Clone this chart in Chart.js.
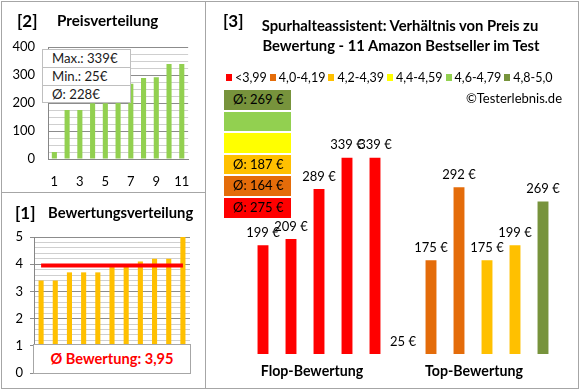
<!DOCTYPE html>
<html>
<head>
<meta charset="utf-8">
<script src="https://cdn.jsdelivr.net/npm/chart.js@4.4.1/dist/chart.umd.min.js"></script>
<style>
body { margin: 0; background: #fff; font-family: Lato, sans-serif; }
#wrap { position: relative; width: 580px; height: 390px; overflow: hidden; background: #fff; }
.frame { position: absolute; border: 1px solid #a6a6a6; box-sizing: border-box; pointer-events: none; }
.txt { position: absolute; white-space: nowrap; color: #000; }
canvas { position: absolute; }
.box { position: absolute; box-sizing: border-box; }
#legende { position: absolute; left: 226px; top: 69px; height: 16px; display: flex; align-items: center; font-size: 12.5px; }
#legende span.item { display: flex; align-items: center; margin-right: 3px; }
#legende span.sq { display: inline-block; width: 6px; height: 7px; margin-right: 3px; }
</style>
</head>
<body>
<div id="wrap">
  <canvas id="chartPreis" width="205" height="192" style="left:0;top:0"></canvas>
  <canvas id="chartBewertung" width="205" height="195" style="left:0;top:193px"></canvas>
  <canvas id="chartVerhaeltnis" width="371" height="385" style="left:206px;top:2px"></canvas>

  <div class="frame" style="left:1px;top:1px;width:578px;height:388px"></div>
  <div class="frame" style="left:205px;top:1px;width:1px;height:388px;border-width:0 0 0 1px"></div>
  <div class="frame" style="left:1px;top:192px;width:205px;height:1px;border-width:1px 0 0 0"></div>

  <div class="txt" style="left:17px;top:20px;transform:translateY(-50%);font-weight:bold;font-size:17px">[2]</div>
  <div class="txt" style="left:57px;top:20px;transform:translateY(-50%);font-weight:bold;font-size:15.2px">Preisverteilung</div>
  <div id="infoBox"></div>

  <div class="txt" style="left:15px;top:212px;transform:translateY(-50%);font-weight:bold;font-size:17px">[1]</div>
  <div class="txt" style="left:48px;top:212px;transform:translateY(-50%);font-weight:bold;font-size:14.8px">Bewertungsverteilung</div>
  <div id="schnittBox" class="box" style="left:33px;top:344px;width:158px;height:30px;background:#fff;border:1px solid #a6a6a6;color:#ff0000;font-weight:bold;font-size:14.6px;line-height:28px;text-align:center"></div>

  <div class="txt" style="left:223px;top:20px;transform:translateY(-50%);font-weight:bold;font-size:17px">[3]</div>
  <div class="txt" style="left:400px;top:25px;transform:translate(-50%,-50%);font-weight:bold;font-size:14.8px">Spurhalteassistent: Verhältnis von Preis zu</div>
  <div class="txt" style="left:401px;top:45px;transform:translate(-50%,-50%);font-weight:bold;font-size:14.8px">Bewertung - 11 Amazon Bestseller im Test</div>
  <div id="legende"></div>
  <div class="txt" style="left:562px;top:98px;transform:translate(-100%,-50%);font-size:13px">©Testerlebnis.de</div>
  <div id="farbBoxen"></div>
  <div id="gruppen"></div>
</div>

<script>
// Preisverteilung (sortiert)
var preisLabels = ["1", "2", "3", "4", "5", "6", "7", "8", "9", "10", "11"];
var preiseSortiert = [25, 175, 175, 199, 199, 209, 269, 289, 292, 339, 339];

// Bewertungsverteilung
var bewertungen = [3.4, 3.4, 3.7, 3.7, 3.7, 3.9, 3.9, 4.1, 4.2, 4.2, 5.0];
var bewertungSchnitt = 3.95;

// Verhaeltnis Preis zu Bewertung
var produktPreise = [199, 209, 289, 339, 339, 25, 175, 292, 175, 199, 269];
var produktKlasse = [0, 0, 0, 0, 0, 1, 1, 1, 2, 2, 5];
var klassenLabels = ["<3,99", "4,0-4,19", "4,2-4,39", "4,4-4,59", "4,6-4,79", "4,8-5,0"];
var klassenFarben = ["#FF0000", "#E46C0A", "#FFC000", "#FFFF00", "#92D050", "#77933C"];
var gruppenLabels = ["Flop-Bewertung", "Top-Bewertung"];
var preisAchse = [25, 345];

var schrift = "Lato, sans-serif";

function makeText(parent, txt, css) {
  var d = document.createElement("div");
  d.textContent = txt;
  d.style.cssText = css;
  parent.appendChild(d);
  return d;
}

// ---- [2] Preisverteilung ----
var maxPreis = Math.max.apply(null, preiseSortiert);
var minPreis = Math.min.apply(null, preiseSortiert);
var schnittPreis = preiseSortiert.reduce(function(a, b) { return a + b; }, 0) / preiseSortiert.length;

var info = document.getElementById("infoBox");
["Max.: " + maxPreis + "€", "Min.: " + minPreis + "€", "Ø: " + Math.round(schnittPreis) + "€"].forEach(function(t, i) {
  makeText(info, t, "position:absolute;box-sizing:border-box;left:42px;top:" + (49 + i * 18) + "px;width:89px;height:" + (i == 2 ? 18 : 19) +
    "px;background:#fff;border:1px solid #bfbfbf;padding-left:9px;line-height:17px;font-size:13.2px;color:#1a1a1a");
});

new Chart(document.getElementById("chartPreis").getContext("2d"), {
  type: "bar",
  data: {
    labels: preisLabels,
    datasets: [{
      data: preiseSortiert,
      backgroundColor: "#92D050",
      barPercentage: 0.4,
      categoryPercentage: 1
    }]
  },
  options: {
    responsive: false,
    animation: false,
    layout: { padding: { left: 0, top: 47, right: 15, bottom: 0 } },
    plugins: { legend: { display: false }, tooltip: { enabled: false } },
    scales: {
      x: {
        afterFit: function(s) { s.height = 33; },
        grid: { display: false, drawTicks: false },
        border: { color: "#868686" },
        ticks: {
          padding: 15, color: "#000", font: { family: schrift, size: 13 }, autoSkip: false, maxRotation: 0,
          callback: function(v, i) { return i % 2 == 0 ? preisLabels[i] : ""; }
        }
      },
      y: {
        min: 0, max: 400,
        afterFit: function(s) { s.width = 48; },
        grid: {
          drawTicks: false,
          color: function(c) { return c.tick.value % 100 == 0 ? "#8c8c8c" : "#cfcfcf"; }
        },
        border: { color: "#868686" },
        ticks: {
          stepSize: 25, padding: 13, autoSkip: false, color: "#000", font: { family: schrift, size: 13 },
          callback: function(v) { return v % 100 == 0 ? v : ""; }
        }
      }
    }
  }
});

// ---- [1] Bewertungsverteilung ----
document.getElementById("schnittBox").textContent = "Ø Bewertung: " + bewertungSchnitt.toFixed(2).replace(".", ",");

new Chart(document.getElementById("chartBewertung").getContext("2d"), {
  type: "bar",
  data: {
    labels: preisLabels,
    datasets: [{
      type: "line",
      data: bewertungen.map(function() { return bewertungSchnitt; }),
      borderColor: "#FF0000",
      borderWidth: 4,
      pointRadius: 0,
      order: 0
    }, {
      data: bewertungen,
      backgroundColor: "#FFC000",
      barPercentage: 0.36,
      categoryPercentage: 1,
      order: 1
    }]
  },
  options: {
    responsive: false,
    animation: false,
    layout: { padding: { left: 0, top: 44, right: 15, bottom: 15 } },
    plugins: { legend: { display: false }, tooltip: { enabled: false } },
    scales: {
      x: { display: false },
      y: {
        min: 0, max: 5,
        afterFit: function(s) { s.width = 34; },
        grid: {
          tickLength: 4,
          color: function(c) { return Math.abs(c.tick.value - Math.round(c.tick.value)) < 0.01 ? "#8c8c8c" : "#cfcfcf"; },
          tickColor: function(c) { return Math.abs(c.tick.value - Math.round(c.tick.value)) < 0.01 ? "#8c8c8c" : "rgba(0,0,0,0)"; }
        },
        border: { color: "#868686" },
        ticks: {
          stepSize: 0.2, padding: 7, autoSkip: false, color: "#000", font: { family: schrift, size: 13 },
          callback: function(v) { return Math.abs(v - Math.round(v)) < 0.01 ? Math.round(v) : ""; }
        }
      }
    }
  }
});

// ---- [3] Verhaeltnis von Preis zu Bewertung ----
var leg = document.getElementById("legende");
klassenLabels.forEach(function(l, i) {
  var item = document.createElement("span");
  item.className = "item";
  var sq = document.createElement("span");
  sq.className = "sq";
  sq.style.background = klassenFarben[i];
  item.appendChild(sq);
  item.appendChild(document.createTextNode(l));
  leg.appendChild(item);
});

var boxen = document.getElementById("farbBoxen");
for (var k = klassenLabels.length - 1, row = 0; k >= 0; k--, row++) {
  var summe = 0, anzahl = 0;
  produktKlasse.forEach(function(kl, i) { if (kl == k) { summe += produktPreise[i]; anzahl++; } });
  var t = anzahl ? "Ø: " + Math.round(summe / anzahl) + " €" : "";
  makeText(boxen, t, "position:absolute;left:224px;top:" + (90 + row * 21.6) + "px;width:67px;height:19.5px;background:" + klassenFarben[k] +
    ";padding-left:9px;box-sizing:border-box;line-height:19.5px;font-size:13px;color:#000");
}

var gr = document.getElementById("gruppen");
makeText(gr, gruppenLabels[0], "position:absolute;left:312px;top:370px;transform:translate(-50%,-50%);white-space:nowrap;font-weight:bold;font-size:14.2px");
makeText(gr, gruppenLabels[1], "position:absolute;left:474px;top:370px;transform:translate(-50%,-50%);white-space:nowrap;font-weight:bold;font-size:14.2px");

var preisLabelPlugin = {
  id: "preisLabels",
  afterDatasetsDraw: function(chart) {
    var ctx = chart.ctx;
    var meta = chart.getDatasetMeta(0);
    ctx.save();
    ctx.font = "13px " + schrift;
    ctx.fillStyle = "#000";
    ctx.textAlign = "center";
    ctx.textBaseline = "middle";
    meta.data.forEach(function(bar, i) {
      ctx.fillText(produktPreise[i] + " €", bar.x, bar.y - 12.5);
    });
    ctx.restore();
  }
};

new Chart(document.getElementById("chartVerhaeltnis").getContext("2d"), {
  type: "bar",
  data: {
    labels: produktPreise.map(function(p, i) { return String(i + 1); }),
    datasets: [{
      data: produktPreise,
      backgroundColor: produktKlasse.map(function(k) { return klassenFarben[k]; }),
      barPercentage: 0.39,
      categoryPercentage: 1
    }]
  },
  options: {
    responsive: false,
    animation: false,
    layout: { padding: { left: 43, top: 152, right: 20, bottom: 33 } },
    plugins: { legend: { display: false }, tooltip: { enabled: false } },
    scales: {
      x: { display: false },
      y: { display: false, min: preisAchse[0], max: preisAchse[1] }
    }
  },
  plugins: [preisLabelPlugin]
});
</script>
</body>
</html>
